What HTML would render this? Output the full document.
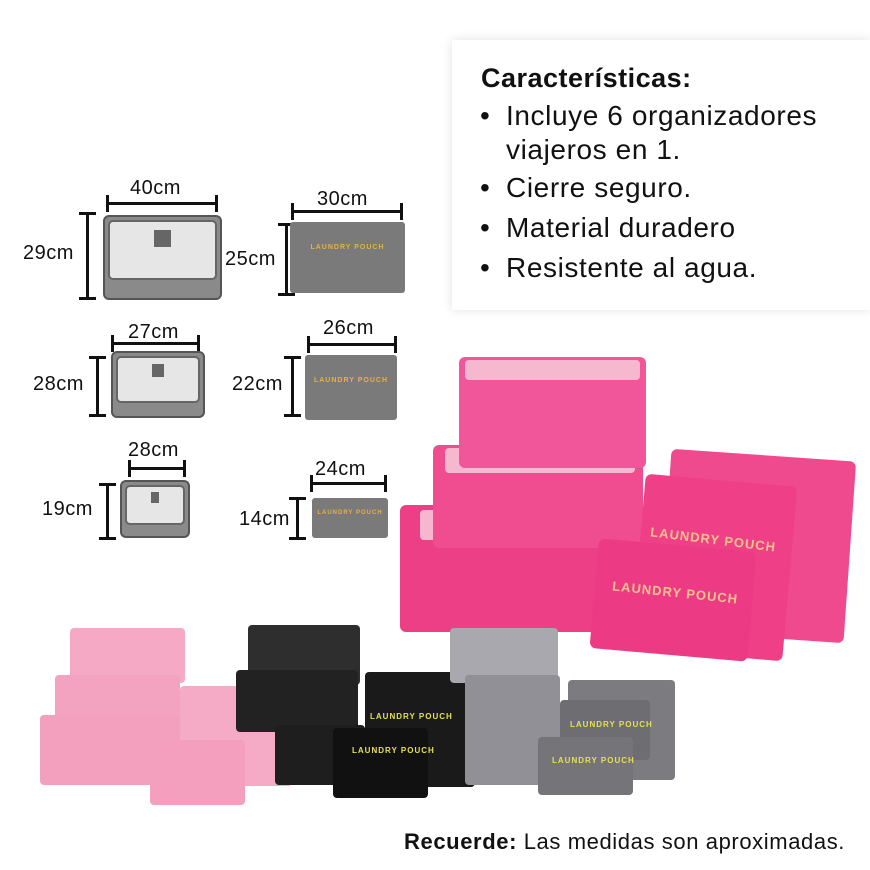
<!DOCTYPE html>
<html><head><meta charset="utf-8"><style>
body{margin:0;width:870px;height:870px;background:#fff;position:relative;overflow:hidden;font-family:"Liberation Sans",sans-serif;}
.a{position:absolute;}
.lb{position:absolute;font-size:20px;color:#111;line-height:20px;letter-spacing:0.5px;}
.h{position:absolute;height:3px;background:#111;}
.h:before,.h:after{content:"";position:absolute;top:-7px;width:3px;height:17px;background:#111;}
.h:before{left:0}.h:after{right:0}
.v{position:absolute;width:3px;background:#111;}
.v:before,.v:after{content:"";position:absolute;left:-7px;width:17px;height:3px;background:#111;}
.v:before{top:0}.v:after{bottom:0}
.cube{position:absolute;background:#8a8a8a;border-radius:6px;border:2px solid #555;box-sizing:border-box;}
.cube i{position:absolute;left:3px;right:3px;top:3px;height:74%;background:#e6e6e6;border-radius:5px;border:2px solid #666;box-sizing:border-box;}
.cube b{position:absolute;left:42%;top:15%;width:16%;height:30%;background:#666;}
.pouch{position:absolute;background:#7a7a7a;border-radius:3px;color:#e8b040;font-size:7px;font-weight:bold;text-align:center;letter-spacing:1px;}
.pk{position:absolute;background:#ef4a8e;border-radius:6px;}
.pkl{position:absolute;background:#f6b8ce;border-radius:4px;}
.lp{font-family:"Liberation Sans",sans-serif;font-weight:bold;color:#f3c58c;position:absolute;letter-spacing:1px;}
.bl{position:absolute;left:506px;font-size:28px;color:#111;letter-spacing:0.6px;line-height:32px;white-space:nowrap;}
.bl.d:before{content:"•";position:absolute;left:-26px;}
</style></head><body>
<div class="a" style="left:452px;top:40px;width:418px;height:270px;background:#fff;box-shadow:0 0 10px rgba(0,0,0,0.12);"></div>
<div class="a" style="left:481px;top:63px;font-size:27px;font-weight:bold;color:#111;letter-spacing:0.5px;">Características:</div>
<div class="bl d" style="top:100px">Incluye 6 organizadores</div>
<div class="bl" style="top:134px;">viajeros en 1.</div>
<div class="bl d" style="top:172px">Cierre seguro.</div>
<div class="bl d" style="top:212px">Material duradero</div>
<div class="bl d" style="top:252px">Resistente al agua.</div>

<!-- dims -->
<div class="lb" style="left:130px;top:178px">40cm</div><div class="h" style="left:106px;top:202px;width:112px"></div>
<div class="lb" style="left:23px;top:243px">29cm</div><div class="v" style="left:86px;top:212px;height:88px"></div>
<div class="cube" style="left:103px;top:215px;width:119px;height:85px"><i><b></b></i></div>
<div class="lb" style="left:317px;top:189px">30cm</div><div class="h" style="left:291px;top:210px;width:112px"></div>
<div class="lb" style="left:225px;top:249px">25cm</div><div class="v" style="left:285px;top:223px;height:73px"></div>
<div class="pouch" style="left:290px;top:222px;width:115px;height:71px;padding-top:22px;box-sizing:border-box">LAUNDRY POUCH</div>

<div class="lb" style="left:128px;top:322px">27cm</div><div class="h" style="left:111px;top:342px;width:89px"></div>
<div class="lb" style="left:33px;top:374px">28cm</div><div class="v" style="left:96px;top:356px;height:61px"></div>
<div class="cube" style="left:111px;top:351px;width:94px;height:67px"><i><b></b></i></div>
<div class="lb" style="left:323px;top:318px">26cm</div><div class="h" style="left:307px;top:343px;width:90px"></div>
<div class="lb" style="left:232px;top:374px">22cm</div><div class="v" style="left:291px;top:356px;height:61px"></div>
<div class="pouch" style="left:305px;top:355px;width:92px;height:65px;padding-top:22px;box-sizing:border-box">LAUNDRY POUCH</div>

<div class="lb" style="left:128px;top:440px">28cm</div><div class="h" style="left:128px;top:467px;width:58px"></div>
<div class="lb" style="left:42px;top:499px">19cm</div><div class="v" style="left:106px;top:483px;height:57px"></div>
<div class="cube" style="left:120px;top:480px;width:70px;height:58px"><i><b></b></i></div>
<div class="lb" style="left:315px;top:459px">24cm</div><div class="h" style="left:310px;top:482px;width:77px"></div>
<div class="lb" style="left:239px;top:509px">14cm</div><div class="v" style="left:296px;top:497px;height:43px"></div>
<div class="pouch" style="left:312px;top:498px;width:76px;height:40px;padding-top:12px;box-sizing:border-box;font-size:6px">LAUNDRY POUCH</div>

<!-- pink set -->
<div class="pk" style="left:665px;top:455px;width:185px;height:182px;transform:rotate(4deg)"></div>
<div class="pk" style="left:400px;top:505px;width:240px;height:127px;background:#ec3f86"></div>
<div class="pkl" style="left:420px;top:510px;width:210px;height:30px;background:#f7b6cf"></div>
<div class="pk" style="left:433px;top:445px;width:210px;height:103px;background:#f04d90"></div>
<div class="pkl" style="left:445px;top:448px;width:190px;height:25px"></div>
<div class="pk" style="left:459px;top:357px;width:187px;height:111px;background:#f2569a"></div>
<div class="pkl" style="left:465px;top:360px;width:175px;height:20px"></div>
<div class="pk" style="left:638px;top:480px;width:152px;height:175px;transform:rotate(5deg);background:#ee3f87"></div>
<div class="lp" style="left:650px;top:532px;font-size:13px;transform:rotate(7deg)">LAUNDRY POUCH</div>
<div class="pk" style="left:594px;top:545px;width:158px;height:110px;transform:rotate(5deg);background:#ec3b84"></div>
<div class="lp" style="left:612px;top:585px;font-size:13px;transform:rotate(6deg)">LAUNDRY POUCH</div>

<!-- bottom sets -->
<div class="pkl" style="left:70px;top:628px;width:115px;height:55px;background:#f5a9c5"></div>
<div class="pkl" style="left:55px;top:675px;width:125px;height:60px;background:#f3a2c0"></div>
<div class="pkl" style="left:40px;top:715px;width:140px;height:70px;background:#f2a0be"></div>
<div class="pkl" style="left:180px;top:686px;width:112px;height:100px;background:#f5aac6"></div>
<div class="pkl" style="left:150px;top:740px;width:95px;height:65px;background:#f39fbd"></div>
<div class="pkl" style="left:248px;top:625px;width:112px;height:60px;background:#2e2e2e"></div>
<div class="pkl" style="left:236px;top:670px;width:122px;height:62px;background:#222"></div>
<div class="pkl" style="left:275px;top:725px;width:90px;height:60px;background:#1e1e1e"></div>
<div class="pkl" style="left:365px;top:672px;width:110px;height:115px;background:#1a1a1a"></div>
<div class="pkl" style="left:333px;top:728px;width:95px;height:70px;background:#111"></div>
<div class="lp" style="left:370px;top:712px;font-size:8px;color:#e5e050">LAUNDRY POUCH</div>
<div class="lp" style="left:352px;top:746px;font-size:8px;color:#e5e050">LAUNDRY POUCH</div>
<div class="pkl" style="left:450px;top:628px;width:108px;height:55px;background:#a8a8ae"></div>
<div class="pkl" style="left:465px;top:675px;width:95px;height:110px;background:#909096"></div>
<div class="pkl" style="left:568px;top:680px;width:107px;height:100px;background:#7b7b80"></div>
<div class="pkl" style="left:560px;top:700px;width:90px;height:60px;background:#6d6d72"></div>
<div class="pkl" style="left:538px;top:737px;width:95px;height:58px;background:#747479"></div>
<div class="lp" style="left:570px;top:720px;font-size:8px;color:#e5e050">LAUNDRY POUCH</div>
<div class="lp" style="left:552px;top:756px;font-size:8px;color:#e5e050">LAUNDRY POUCH</div>

<div class="a" style="left:404px;top:829px;font-size:22px;color:#111;letter-spacing:0.6px;"><b>Recuerde:</b> Las medidas son aproximadas.</div>
</body></html>
